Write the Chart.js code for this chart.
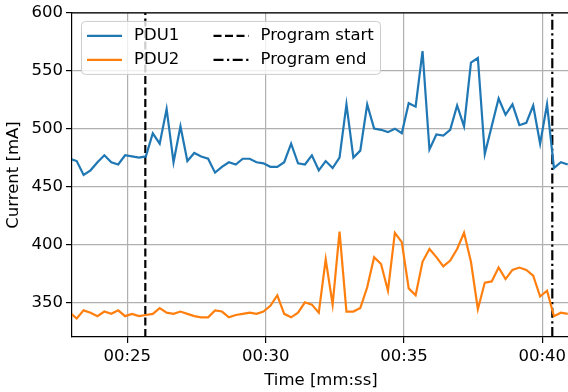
<!DOCTYPE html>
<html>
<head>
<meta charset="utf-8">
<script src="https://cdn.jsdelivr.net/npm/chart.js@4"></script>
<style>
  html, body { margin: 0; padding: 0; background: #fff; overflow: hidden; }
  #wrap { width: 574px; height: 392px; }
</style>
</head>
<body>
<div id="wrap"><canvas id="chart" width="574" height="392"></canvas></div>
<script>
// Samples are 4 per second, first one just left of the visible range
const sampleStart = 22.92;
const samplePeriod = 0.25;

const pdu1 = [474, 472, 460, 464, 471, 477, 471, 469, 477, 476, 475, 476,
  496, 487, 517, 471, 502, 472, 479, 476, 474, 462, 467, 471, 469, 474, 474,
  471, 470, 467, 467, 471, 487, 470, 469, 477, 464, 472, 466, 475, 521, 475,
  481, 521, 500, 499, 497, 500, 496, 522, 519, 567, 482, 495, 494, 499, 520,
  502, 557, 561, 478, 502, 526, 512, 521, 503, 505, 520, 487, 521, 466, 471, 469];

const pdu2 = [341, 336, 343, 341, 338, 342, 340, 343, 338, 340, 338, 339,
  340, 345, 341, 340, 342, 340, 338, 337, 337, 343, 342, 337, 339, 340, 341,
  340, 342, 347, 356, 340, 337, 341, 350, 348, 341, 387, 348, 411, 342, 342,
  345, 363, 389, 383, 360, 410, 402, 362, 356, 385, 396, 389, 381, 386, 396,
  410, 385, 344, 367, 368, 380, 370, 378, 380, 378, 373, 355, 360, 338, 341, 340];

const programStart = 25.65;
const programEnd = 40.36;

const xTicks = [25, 30, 35, 40];
const yTicks = [350, 400, 450, 500, 550, 600];
const xRange = [23, 41];
const yRange = [320, 600];

const FONT = '"DejaVu Sans", sans-serif';
Chart.defaults.font.family = FONT;
Chart.defaults.font.size = 16.5;
Chart.defaults.color = '#000';

function toPoints(values) {
  return values.map((v, i) => ({ x: sampleStart + i * samplePeriod, y: v }));
}

function mmss(v) {
  const m = Math.floor(v / 60), s = Math.round(v % 60);
  return String(m).padStart(2, '0') + ':' + String(s).padStart(2, '0');
}

// top spine, matplotlib style
const frame = {
  id: 'frame',
  afterDatasetsDraw(chart) {
    const { ctx, chartArea: a } = chart;
    ctx.save();
    ctx.strokeStyle = '#000';
    ctx.lineWidth = 1.2;
    ctx.beginPath();
    ctx.moveTo(a.left, a.top);
    ctx.lineTo(a.right + 2, a.top);
    ctx.stroke();
    ctx.restore();
  }
};

// two-column legend in the upper left
const boxLegend = {
  id: 'boxLegend',
  afterDraw(chart) {
    const { ctx, chartArea: a } = chart;
    const bx = a.left + 9, by = a.top + 8, bw = 299, bh = 53;
    ctx.save();
    ctx.beginPath();
    ctx.roundRect(bx + 0.5, by + 0.5, bw, bh, 4);
    ctx.fillStyle = 'rgba(255,255,255,0.8)';
    ctx.fill();
    ctx.strokeStyle = '#cccccc';
    ctx.lineWidth = 1;
    ctx.stroke();

    ctx.font = '16.5px ' + FONT;
    ctx.textBaseline = 'middle';
    ctx.fillStyle = '#000';
    chart.data.datasets.forEach((ds, i) => {
      const col = Math.floor(i / 2), row = i % 2;
      const x = bx + 6 + col * 126.5;
      const y = by + 15 + row * 24;
      ctx.strokeStyle = ds.borderColor;
      ctx.lineWidth = ds.borderWidth;
      ctx.setLineDash(ds.borderDash || []);
      ctx.beginPath();
      ctx.moveTo(x, y);
      ctx.lineTo(x + 35, y);
      ctx.stroke();
      ctx.setLineDash([]);
      ctx.fillText(ds.label, x + 47, y);
    });
    ctx.restore();
  }
};

new Chart(document.getElementById('chart'), {
  type: 'line',
  data: {
    datasets: [
      { label: 'PDU1', data: toPoints(pdu1), borderColor: '#1f77b4', borderWidth: 2.2 },
      { label: 'PDU2', data: toPoints(pdu2), borderColor: '#ff7f0e', borderWidth: 2.2 },
      { label: 'Program start', data: [{ x: programStart, y: yRange[0] }, { x: programStart, y: yRange[1] }],
        borderColor: '#000', borderWidth: 2.2, borderDash: [8, 3.5] },
      { label: 'Program end', data: [{ x: programEnd, y: yRange[0] }, { x: programEnd, y: yRange[1] }],
        borderColor: '#000', borderWidth: 2.2, borderDash: [10, 3.5, 2.2, 3.5] }
    ]
  },
  options: {
    responsive: false,
    animation: false,
    devicePixelRatio: 1,
    layout: { padding: { top: 10, right: 4, left: 0, bottom: 0 } },
    elements: { point: { radius: 0 }, line: { tension: 0, fill: false } },
    plugins: { legend: { display: false }, tooltip: { enabled: false } },
    scales: {
      x: {
        type: 'linear',
        min: xRange[0],
        max: xRange[1],
        afterFit(scale) { scale.height = 55; },
        afterBuildTicks(scale) { scale.ticks = xTicks.map(v => ({ value: v })); },
        ticks: { callback: v => mmss(v), padding: 4, maxRotation: 0 },
        grid: { color: '#b0b0b0', lineWidth: 1.2, tickLength: 6, tickColor: '#000', tickWidth: 1.2 },
        border: { display: true, color: '#000', width: 1.2 },
        title: { display: true, text: 'Time [mm:ss]', padding: { top: 0, bottom: 1 } }
      },
      y: {
        min: yRange[0],
        max: yRange[1],
        afterFit(scale) { scale.width = 72; },
        afterBuildTicks(scale) { scale.ticks = yTicks.map(v => ({ value: v })); },
        ticks: { padding: 3 },
        grid: { color: '#b0b0b0', lineWidth: 1.2, tickLength: 6, tickColor: '#000', tickWidth: 1.2 },
        border: { display: true, color: '#000', width: 1.2 },
        title: { display: true, text: 'Current [mA]', padding: { top: 4, bottom: 0 } }
      }
    }
  },
  plugins: [frame, boxLegend]
});
</script>
</body>
</html>
